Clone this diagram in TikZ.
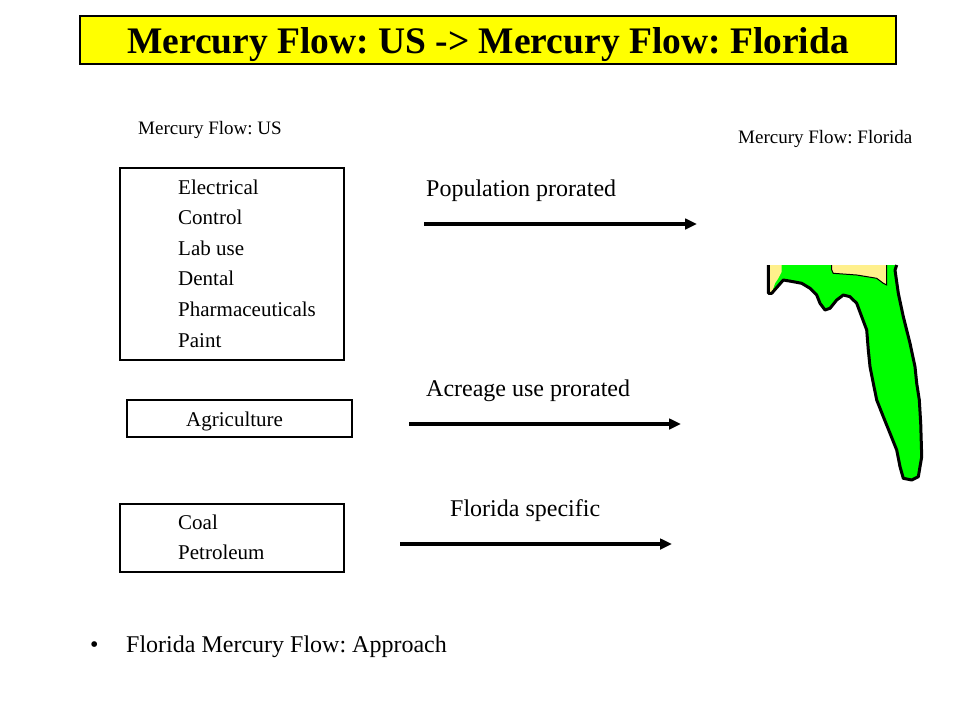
\documentclass[tikz,border=0pt]{standalone}
\usepackage{fontspec}
\setmainfont{Liberation Serif}
\usetikzlibrary{arrows.meta}
\definecolor{titleyellow}{RGB}{255,255,0}
\definecolor{flgreen}{RGB}{0,255,0}
\definecolor{flyellow}{RGB}{255,240,140}
\tikzset{
  frame/.style={draw=black, line width=2pt, inner sep=0pt},
  itemtext/.style={anchor=base west, inner sep=0pt, font=\fontsize{21}{21}\selectfont},
  labeltext/.style={anchor=base west, inner sep=0pt, font=\fontsize{24}{24}\selectfont},
  headtext/.style={anchor=base west, inner sep=0pt, font=\fontsize{19}{19}\selectfont},
  flowarrow/.style={line width=4pt, -{Triangle[length=12pt,width=10.5pt]}},
}
\frenchspacing
\begin{document}
\begin{tikzpicture}[x=1pt,y=-1pt]
\useasboundingbox (0,0) rectangle (960,720);
% title
\node[draw=black, line width=1.5pt, fill=titleyellow, minimum width=816pt, minimum height=48pt, inner sep=0pt] (title) at (488,40) {};
\node[anchor=base, inner sep=0pt, font=\fontsize{37.5}{37.5}\selectfont\bfseries] (titletext) at (488,53) {Mercury Flow: US -> Mercury Flow: Florida};
% headings
\node[headtext] (hus) at (138,134) {Mercury Flow: US};
\node[headtext] (hfl) at (738,143) {Mercury Flow: Florida};
% box 1
\node[frame, minimum width=224pt, minimum height=192pt] (box1) at (232,264) {};
\node[itemtext] (i1) at (178,194) {Electrical};
\node[itemtext] (i2) at (178,224.6) {Control};
\node[itemtext] (i3) at (178,255.2) {Lab use};
\node[itemtext] (i4) at (178,285.8) {Dental};
\node[itemtext] (i5) at (178,316.4) {Pharmaceuticals};
\node[itemtext] (i6) at (178,347) {Paint};
% box 2
\node[frame, minimum width=225pt, minimum height=37pt] (box2) at (239.5,418.5) {};
\node[itemtext] (i7) at (186,426) {Agriculture};
% box 3
\node[frame, minimum width=224pt, minimum height=68pt] (box3) at (232,538) {};
\node[itemtext] (i8) at (178,529) {Coal};
\node[itemtext] (i9) at (178,559.6) {Petroleum};
% labels
\node[labeltext] (l1) at (426,196) {Population prorated};
\node[labeltext] (l2) at (426,396) {Acreage use prorated};
\node[labeltext] (l3) at (450,516) {Florida specific};
% arrows
\coordinate (a1s) at (424,224); \coordinate (a1e) at (697,224);
\coordinate (a2s) at (409,424); \coordinate (a2e) at (681,424);
\coordinate (a3s) at (400,544); \coordinate (a3e) at (672,544);
\draw[flowarrow] (a1s) -- (a1e);
\draw[flowarrow] (a2s) -- (a2e);
\draw[flowarrow] (a3s) -- (a3e);
% Florida map
\fill[flgreen] (768.3,265) -- (896.7,265) -- (895,270) -- (898.3,293.3) -- (903.3,316.7) -- (910,343.3) -- (915,366.7) -- (916.7,383.3) -- (919.3,400) -- (920.7,423.3) -- (921.7,456.7) -- (918.3,476.7) -- (911.7,480) -- (903.3,478.3) -- (900,466.7) -- (896.7,450) -- (890,433.3) -- (883.3,416.7) -- (876.7,400) -- (873.3,383.3) -- (870,366.7) -- (868.3,350) -- (866.7,330) -- (861.7,316.7) -- (856.7,303.3) -- (850,296.7) -- (843.3,295) -- (836.7,300) -- (830,308.3) -- (825,310) -- (820,303.3) -- (816.7,295) -- (810,288.3) -- (801.7,283.3) -- (793.3,281.7) -- (783.3,280) -- (771.7,293.3) -- (768.3,293.3) -- cycle;
\fill[flyellow] (768.3,265) -- (781.7,265) -- (781.7,271.7) -- (778.3,278.3) -- (775,283.3) -- (771.7,293.3) -- (768.3,293.3) -- cycle;
\fill[flyellow] (831.7,265) -- (886.7,265) -- (886.7,285) -- (883.3,283.3) -- (876.7,278.3) -- (856.7,275) -- (833.3,273.3) -- (831.7,270) -- cycle;
\draw[black, line width=1pt] (831.7,265) -- (831.7,270) -- (833.3,273.3) -- (856.7,275) -- (876.7,278.3) -- (883.3,283.3) -- (886.7,285) -- (886.7,265);
\draw[black, line width=3pt, line join=round] (896.7,265) -- (895,270) -- (898.3,293.3) -- (903.3,316.7) -- (910,343.3) -- (915,366.7) -- (916.7,383.3) -- (919.3,400) -- (920.7,423.3) -- (921.7,456.7) -- (918.3,476.7) -- (911.7,480) -- (903.3,478.3) -- (900,466.7) -- (896.7,450) -- (890,433.3) -- (883.3,416.7) -- (876.7,400) -- (873.3,383.3) -- (870,366.7) -- (868.3,350) -- (866.7,330) -- (861.7,316.7) -- (856.7,303.3) -- (850,296.7) -- (843.3,295) -- (836.7,300) -- (830,308.3) -- (825,310) -- (820,303.3) -- (816.7,295) -- (810,288.3) -- (801.7,283.3) -- (793.3,281.7) -- (783.3,280) -- (771.7,293.3) -- (768.3,293.3) -- (768.3,265);
% bullet
\node[labeltext] (bul) at (90,652) {\textbullet};
\node[labeltext] (bt) at (126,652) {Florida Mercury Flow: Approach};
\end{tikzpicture}
\end{document}
